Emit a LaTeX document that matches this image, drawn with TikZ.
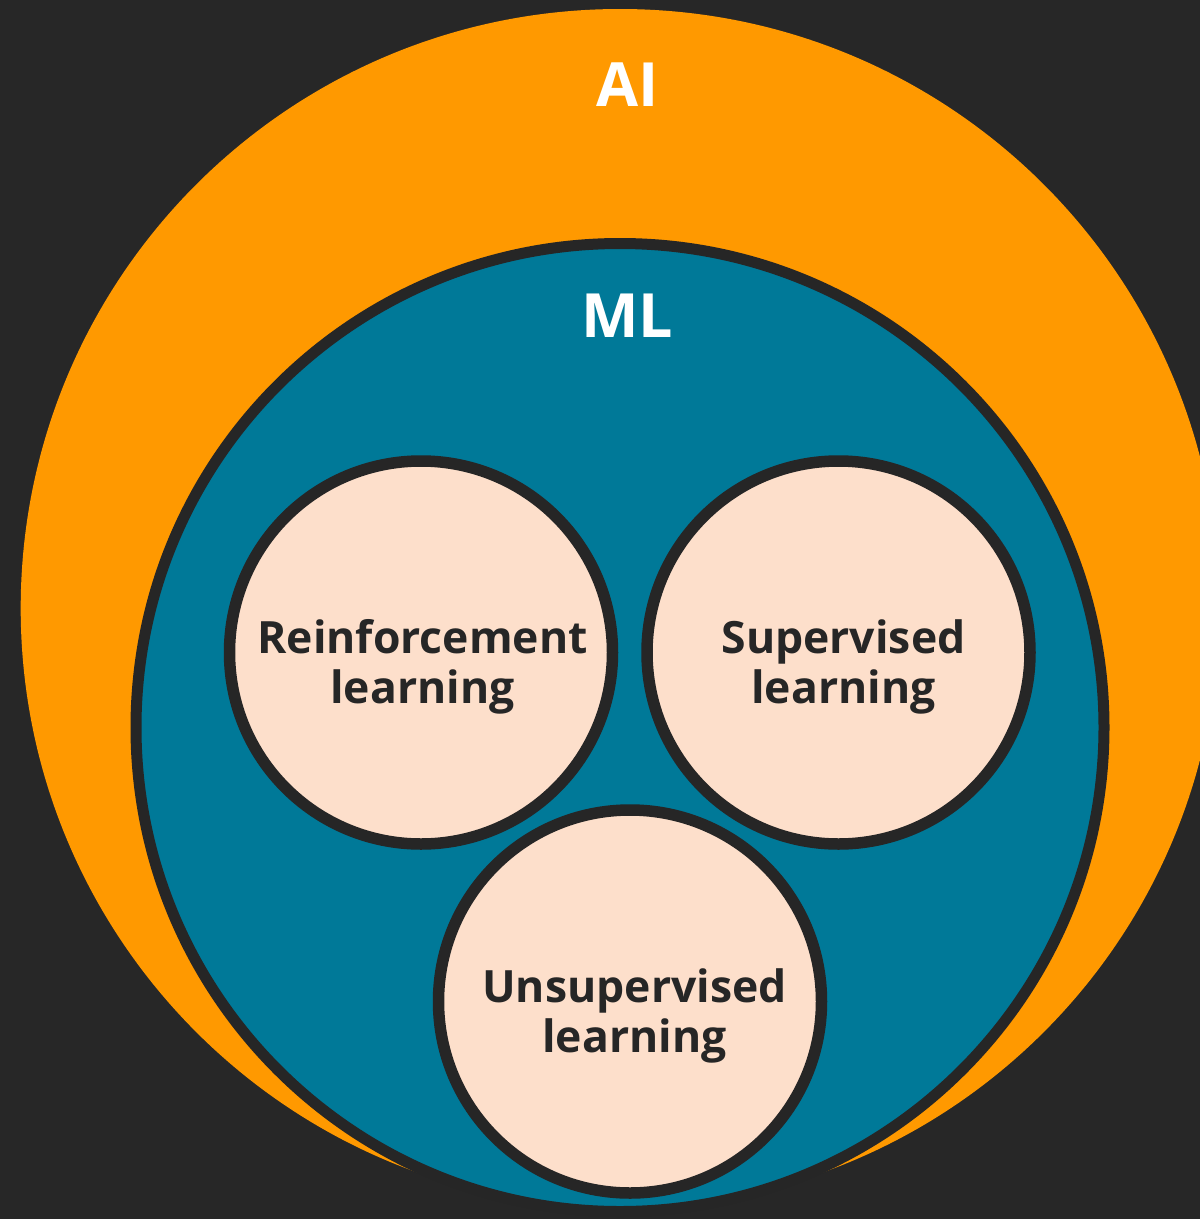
\documentclass[tikz,border=0pt]{standalone}
\usepackage{fontspec}
\setmainfont{Open Sans}
\definecolor{bgdark}{HTML}{272727}
\definecolor{aiorange}{HTML}{FF9900}
\definecolor{mlteal}{HTML}{007998}
\definecolor{peach}{HTML}{FDDFCB}
\definecolor{inkdark}{HTML}{262626}
\tikzset{
  aidisc/.style={circle, fill=aiorange, draw=none, inner sep=0pt, minimum size=1198.6pt},
  mldisc/.style={circle, fill=mlteal, draw=inkdark, line width=11pt, inner sep=0pt, minimum size=968pt},
  subdisc/.style={circle, fill=peach, draw=inkdark, line width=11.5pt, inner sep=0pt, minimum size=383pt},
  title/.style={text=white, font=\fontsize{61}{61}\selectfont\bfseries, inner sep=0pt, anchor=base},
  lbl/.style={text=inkdark, font=\fontsize{44.5}{50}\selectfont\bfseries, align=center, inner sep=0pt, anchor=base}
}
\begin{document}
\begin{tikzpicture}[x=1pt,y=-1pt]
\fill[bgdark] (0,0) rectangle (1200,1219);
\useasboundingbox (0,0) rectangle (1200,1219);
\clip (0,0) rectangle (1200,1219);
\node[aidisc] (ai) at (620,608.3) {};
\node[mldisc] (ml) at (620,727.5) {};
\node[subdisc] (rl) at (421,652.5) {};
\node[subdisc] (sl) at (838.5,652.5) {};
\node[subdisc] (ul) at (630,1001.5) {};
\node[title] (ait) at (628,106) {AI};
\node[title] (mlt) at (627,337) {ML};
\node[lbl] (rlt) at (422.5,703) {Reinforcement\\learning};
\node[lbl] (slt) at (843.5,703) {Supervised\\learning};
\node[lbl] (ult) at (634.5,1052) {Unsupervised\\learning};
\end{tikzpicture}
\end{document}
